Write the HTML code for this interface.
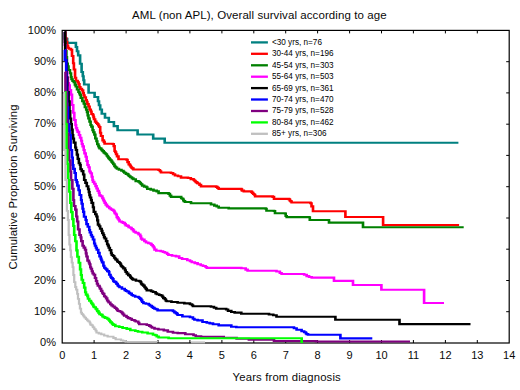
<!DOCTYPE html><html><head><meta charset="utf-8"><title>AML survival</title><style>
html,body{margin:0;padding:0;background:#fff}
#c{position:relative;width:520px;height:390px;overflow:hidden;background:#fff;font-family:"Liberation Sans",sans-serif;color:#0a0a0a}
.t{position:absolute;white-space:nowrap;line-height:1}
.xl{font-size:11px;transform:translateX(-50%)}
.yl{font-size:11px;text-align:right;width:40px}
.lg{font-size:9.7px;transform-origin:0 50%;transform:scaleX(0.843);color:#000}

</style></head><body><div id="c">
<svg width="520" height="390" viewBox="0 0 520 390" style="position:absolute;left:0;top:0">
<rect x="0" y="0" width="520" height="390" fill="#fff"/>
<rect x="62.2" y="30.4" width="447.0" height="312.6" fill="none" stroke="#000" stroke-width="1.2"/>
<path d="M94.1,343.0v-3 M94.1,30.4v3 M126.1,343.0v-3 M126.1,30.4v3 M158.0,343.0v-3 M158.0,30.4v3 M189.9,343.0v-3 M189.9,30.4v3 M221.9,343.0v-3 M221.9,30.4v3 M253.8,343.0v-3 M253.8,30.4v3 M285.7,343.0v-3 M285.7,30.4v3 M317.6,343.0v-3 M317.6,30.4v3 M349.6,343.0v-3 M349.6,30.4v3 M381.5,343.0v-3 M381.5,30.4v3 M413.4,343.0v-3 M413.4,30.4v3 M445.4,343.0v-3 M445.4,30.4v3 M477.3,343.0v-3 M477.3,30.4v3 M62.2,311.7h3 M509.2,311.7h-3 M62.2,280.5h3 M509.2,280.5h-3 M62.2,249.2h3 M509.2,249.2h-3 M62.2,218.0h3 M509.2,218.0h-3 M62.2,186.7h3 M509.2,186.7h-3 M62.2,155.4h3 M509.2,155.4h-3 M62.2,124.2h3 M509.2,124.2h-3 M62.2,92.9h3 M509.2,92.9h-3 M62.2,61.7h3 M509.2,61.7h-3" stroke="#000" stroke-width="1" fill="none"/>
<g transform="scale(1.25,1)" fill="none" stroke-linejoin="miter">
<polyline points="51.60,32.0 51.60,38.7 53.76,38.7 53.76,42.9 60.72,42.9 60.72,47.0 61.60,47.0 61.60,51.2 62.56,51.2 62.56,55.4 64.08,55.4 64.08,63.7 65.28,63.7 65.28,72.0 66.24,72.0 66.24,76.2 66.80,76.2 66.80,80.3 67.36,80.3 67.36,84.5 70.88,84.5 70.88,92.8 75.68,92.8 75.68,97.0 78.40,97.0 78.40,101.2 79.20,101.2 79.20,105.3 80.16,105.3 80.16,109.5 81.44,109.5 81.44,113.7 84.00,113.7 84.00,117.8 87.04,117.8 87.04,122.0 91.12,122.0 91.12,126.1 94.08,126.1 94.08,130.3 110.08,130.3 110.08,134.5 122.56,134.5 122.56,138.6 131.76,138.6 131.76,142.8 366.72,142.8" stroke="#008080" stroke-width="2.1"/>
<polyline points="51.92,32.5 52.32,32.5 52.32,38.0 52.96,38.0 52.96,42.0 53.68,42.0 53.68,45.5 54.40,45.5 54.40,47.7 55.12,47.7 55.12,48.8 56.72,48.8 56.72,49.8 57.60,49.8 57.60,56.0 58.56,56.0 58.56,63.2 59.12,63.2 59.12,69.5 60.04,69.5 60.04,77.7 60.80,77.7 60.80,80.8 62.12,80.8 62.12,82.2 62.89,82.2 62.89,84.0 63.52,84.0 63.52,87.0 64.29,87.0 64.29,88.9 65.52,88.9 65.52,90.4 66.48,90.4 66.48,93.0 66.97,93.0 66.97,95.3 67.60,95.3 67.60,97.3 68.64,97.3 68.64,100.0 69.32,100.0 69.32,101.7 69.89,101.7 69.89,104.1 70.82,104.1 70.82,106.5 71.68,106.5 71.68,109.6 72.61,109.6 72.61,111.5 73.21,111.5 73.21,114.0 74.33,114.0 74.33,115.3 74.80,115.3 74.80,117.3 75.21,117.3 75.21,119.2 76.09,119.2 76.09,121.6 77.04,121.6 77.04,123.0 77.86,123.0 77.86,124.0 78.62,124.0 78.62,125.5 79.36,125.5 79.36,127.0 80.16,127.0 80.16,132.7 80.77,132.7 80.77,136.0 82.08,136.0 82.08,140.4 83.08,140.4 83.08,141.9 83.68,141.9 83.68,143.8 90.24,143.8 90.24,144.0 90.99,144.0 90.99,146.1 91.68,146.1 91.68,151.0 92.22,151.0 92.22,152.2 92.86,152.2 92.86,154.2 93.62,154.2 93.62,156.4 94.80,156.4 94.80,159.3 101.20,159.3 101.20,159.8 102.03,159.8 102.03,162.1 103.00,162.1 103.00,164.4 103.92,164.4 103.92,165.5 104.53,165.5 104.53,166.8 105.18,166.8 105.18,167.8 105.84,167.8 105.84,168.4 106.72,168.4 106.72,169.5 126.88,169.5 126.88,170.0 127.94,170.0 127.94,171.2 128.80,171.2 128.80,172.5 136.80,172.5 136.80,173.0 138.47,173.0 138.47,174.3 140.00,174.3 140.00,175.5 142.39,175.5 142.39,176.2 144.80,176.2 144.80,177.6 150.40,177.6 150.40,178.0 152.67,178.0 152.67,179.1 154.80,179.1 154.80,179.8 155.33,179.8 155.33,180.5 156.03,180.5 156.03,181.2 156.67,181.2 156.67,182.1 157.59,182.1 157.59,182.9 158.15,182.9 158.15,183.5 159.61,183.5 159.61,184.9 160.80,184.9 160.80,186.4 172.96,186.4 172.96,186.9 173.95,186.9 173.95,187.9 174.96,187.9 174.96,188.9 193.04,188.9 193.04,189.4 193.57,189.4 193.57,190.6 195.04,190.6 195.04,191.4 201.12,191.4 201.12,191.9 201.72,191.9 201.72,192.9 202.58,192.9 202.58,194.0 203.38,194.0 203.38,194.8 204.08,194.8 204.08,196.4 218.16,196.4 218.16,196.9 219.20,196.9 219.20,198.9 231.20,198.9 231.20,199.4 231.91,199.4 231.91,200.7 232.59,200.7 232.59,201.4 233.28,201.4 233.28,202.5 248.40,202.5 248.40,203.2 249.21,203.2 249.21,206.4 250.40,206.4 250.40,211.3 276.32,211.3 276.32,217.0 306.48,217.0 306.48,225.0 367.28,225.0" stroke="#ff0000" stroke-width="2.1"/>
<polyline points="51.60,32.0 51.84,32.0 51.84,42.0 52.40,42.0 52.40,51.0 53.12,51.0 53.12,57.0 53.52,57.0 53.52,63.5 54.16,63.5 54.16,66.4 54.80,66.4 54.80,70.0 55.96,70.0 55.96,73.3 56.80,73.3 56.80,77.0 57.21,77.0 57.21,79.3 58.03,79.3 58.03,81.0 59.02,81.0 59.02,82.3 59.92,82.3 59.92,84.6 60.59,84.6 60.59,86.5 61.63,86.5 61.63,89.5 62.80,89.5 62.80,92.0 63.52,92.0 63.52,93.4 64.07,93.4 64.07,94.9 64.65,94.9 64.65,97.9 65.89,97.9 65.89,101.2 67.04,101.2 67.04,103.8 67.91,103.8 67.91,107.2 68.99,107.2 68.99,109.8 69.63,109.8 69.63,112.1 70.16,112.1 70.16,115.4 70.76,115.4 70.76,118.4 71.63,118.4 71.63,121.6 72.48,121.6 72.48,125.0 73.12,125.0 73.12,126.6 74.06,126.6 74.06,130.1 74.72,130.1 74.72,132.2 75.52,132.2 75.52,134.6 76.26,134.6 76.26,138.5 77.21,138.5 77.21,141.3 77.84,141.3 77.84,144.2 78.74,144.2 78.74,146.1 79.20,146.1 79.20,147.5 79.69,147.5 79.69,148.4 80.95,148.4 80.95,149.5 81.60,149.5 81.60,150.4 82.20,150.4 82.20,151.1 82.94,151.1 82.94,152.4 83.71,152.4 83.71,153.3 84.64,153.3 84.64,154.2 85.46,154.2 85.46,155.8 86.11,155.8 86.11,156.8 86.79,156.8 86.79,158.1 87.60,158.1 87.60,159.2 88.33,159.2 88.33,160.2 89.20,160.2 89.20,161.6 89.89,161.6 89.89,162.8 90.64,162.8 90.64,164.2 91.55,164.2 91.55,165.9 92.03,165.9 92.03,166.8 92.69,166.8 92.69,167.6 93.60,167.6 93.60,168.8 95.15,168.8 95.15,169.7 97.16,169.7 97.16,170.7 98.72,170.7 98.72,171.8 99.43,171.8 99.43,172.8 100.76,172.8 100.76,173.9 102.02,173.9 102.02,174.4 102.72,174.4 102.72,175.5 103.48,175.5 103.48,176.2 104.32,176.2 104.32,177.3 105.59,177.3 105.59,178.4 106.72,178.4 106.72,179.3 108.59,179.3 108.59,181.1 110.80,181.1 110.80,181.8 111.73,181.8 111.73,182.8 112.57,182.8 112.57,183.7 113.02,183.7 113.02,184.3 113.76,184.3 113.76,185.6 115.32,185.6 115.32,186.6 117.11,186.6 117.11,187.3 117.84,187.3 117.84,188.9 120.57,188.9 120.57,189.6 122.80,189.6 122.80,190.6 125.39,190.6 125.39,191.4 126.88,191.4 126.88,193.1 134.88,193.1 134.88,193.9 135.91,193.9 135.91,195.6 136.88,195.6 136.88,196.9 144.96,196.9 144.96,198.2 145.75,198.2 145.75,198.8 146.65,198.8 146.65,200.2 147.06,200.2 147.06,201.1 148.00,201.1 148.00,202.0 152.80,202.0 152.80,203.2 168.80,203.2 168.80,204.5 171.46,204.5 171.46,205.6 173.38,205.6 173.38,206.5 174.96,206.5 174.96,207.7 182.96,207.7 182.96,208.4 212.48,208.4 212.48,208.7 213.20,208.7 213.20,210.8 219.20,210.8 219.20,211.0 220.00,211.0 220.00,213.3 228.00,213.3 228.00,213.5 228.56,213.5 228.56,216.0 229.36,216.0 229.36,217.1 247.20,217.1 247.20,217.3 247.84,217.3 247.84,220.0 263.20,220.0 263.20,222.6 290.40,222.6 290.40,227.2 370.96,227.2" stroke="#008000" stroke-width="2.1"/>
<polyline points="51.68,32.0 51.92,32.0 51.92,45.0 52.40,45.0 52.40,60.0 53.04,60.0 53.04,72.0 53.74,72.0 53.74,77.7 54.40,77.7 54.40,83.0 55.04,83.0 55.04,85.2 55.76,85.2 55.76,90.0 56.74,90.0 56.74,94.6 57.60,94.6 57.60,105.0 58.59,105.0 58.59,112.7 59.44,112.7 59.44,120.0 60.40,120.0 60.40,125.0 60.88,125.0 60.88,128.1 61.57,128.1 61.57,130.3 62.13,130.3 62.13,131.9 63.20,131.9 63.20,135.0 64.07,135.0 64.07,137.8 64.98,137.8 64.98,140.8 65.52,140.8 65.52,144.0 66.11,144.0 66.11,146.4 66.96,146.4 66.96,150.0 67.59,150.0 67.59,153.4 68.56,153.4 68.56,156.7 69.31,156.7 69.31,161.0 70.00,161.0 70.00,165.0 70.85,165.0 70.85,167.3 71.63,167.3 71.63,171.5 72.46,171.5 72.46,173.3 73.40,173.3 73.40,176.8 74.00,176.8 74.00,180.0 74.40,180.0 74.40,181.9 75.39,181.9 75.39,183.7 76.42,183.7 76.42,186.1 77.25,186.1 77.25,188.5 78.16,188.5 78.16,190.9 79.13,190.9 79.13,192.9 79.60,192.9 79.60,195.4 80.74,195.4 80.74,196.3 81.90,196.3 81.90,198.2 82.60,198.2 82.60,199.7 83.12,199.7 83.12,201.3 83.73,201.3 83.73,202.9 84.56,202.9 84.56,204.6 85.56,204.6 85.56,206.0 86.07,206.0 86.07,206.7 87.39,206.7 87.39,208.2 88.65,208.2 88.65,209.2 89.67,209.2 89.67,209.9 90.72,209.9 90.72,210.8 91.53,210.8 91.53,212.4 91.99,212.4 91.99,213.5 92.80,213.5 92.80,214.5 93.40,214.5 93.40,217.1 94.13,217.1 94.13,218.4 94.91,218.4 94.91,219.8 95.60,219.8 95.60,221.5 97.30,221.5 97.30,222.1 98.40,222.1 98.40,222.9 99.86,222.9 99.86,224.1 100.56,224.1 100.56,225.4 101.96,225.4 101.96,225.9 102.90,225.9 102.90,227.2 104.11,227.2 104.11,227.8 105.25,227.8 105.25,229.1 106.40,229.1 106.40,230.4 107.14,230.4 107.14,231.8 108.51,231.8 108.51,232.8 110.40,232.8 110.40,233.5 111.00,233.5 111.00,234.5 112.23,234.5 112.23,236.2 112.84,236.2 112.84,238.6 113.76,238.6 113.76,239.6 115.50,239.6 115.50,241.3 116.83,241.3 116.83,242.5 118.65,242.5 118.65,243.2 120.24,243.2 120.24,243.8 121.20,243.8 121.20,245.0 122.15,245.0 122.15,246.3 122.96,246.3 122.96,247.5 123.60,247.5 123.60,249.6 125.02,249.6 125.02,250.7 128.56,250.7 128.56,251.2 130.38,251.2 130.38,252.0 131.93,252.0 131.93,252.7 133.71,252.7 133.71,254.0 134.72,254.0 134.72,255.0 137.62,255.0 137.62,255.7 140.75,255.7 140.75,256.4 143.36,256.4 143.36,258.0 145.65,258.0 145.65,259.0 149.82,259.0 149.82,260.3 152.00,260.3 152.00,261.2 153.43,261.2 153.43,262.2 155.81,262.2 155.81,263.1 158.08,263.1 158.08,264.2 160.57,264.2 160.57,265.2 162.38,265.2 162.38,266.0 164.49,266.0 164.49,267.0 165.44,267.0 165.44,267.9 193.04,267.9 193.04,268.3 196.54,268.3 196.54,269.6 198.08,269.6 198.08,270.8 221.20,270.8 221.20,271.5 223.89,271.5 223.89,273.0 225.28,273.0 225.28,274.0 243.36,274.0 243.36,274.8 245.33,274.8 245.33,276.1 247.27,276.1 247.27,277.0 249.36,277.0 249.36,277.6 267.20,277.6 267.20,280.9 282.40,280.9 282.40,285.0 305.12,285.0 305.12,289.7 339.28,289.7 339.28,303.0 355.20,303.0" stroke="#ff00ff" stroke-width="2.1"/>
<polyline points="51.60,32.0 52.16,32.0 52.16,60.0 53.16,60.0 53.16,77.3 53.84,77.3 53.84,92.0 54.87,92.0 54.87,101.4 55.60,101.4 55.60,111.0 56.12,111.0 56.12,118.5 56.80,118.5 56.80,124.0 57.37,124.0 57.37,129.6 58.00,129.6 58.00,135.0 58.46,135.0 58.46,138.6 59.09,138.6 59.09,142.6 60.29,142.6 60.29,147.5 60.80,147.5 60.80,150.0 61.53,150.0 61.53,154.6 62.24,154.6 62.24,158.9 63.10,158.9 63.10,163.3 64.00,163.3 64.00,165.0 64.44,165.0 64.44,169.2 65.42,169.2 65.42,171.1 66.56,171.1 66.56,174.5 67.36,174.5 67.36,180.0 68.38,180.0 68.38,182.9 69.42,182.9 69.42,186.3 70.55,186.3 70.55,189.3 71.12,189.3 71.12,192.1 71.59,192.1 71.59,195.1 72.09,195.1 72.09,197.5 72.88,197.5 72.88,200.0 73.33,200.0 73.33,202.9 74.41,202.9 74.41,207.3 75.03,207.3 75.03,211.9 76.23,211.9 76.23,214.3 77.19,214.3 77.19,216.5 77.87,216.5 77.87,220.4 78.40,220.4 78.40,224.6 79.35,224.6 79.35,226.3 80.13,226.3 80.13,228.8 81.31,228.8 81.31,230.9 81.86,230.9 81.86,233.3 82.72,233.3 82.72,235.0 83.26,235.0 83.26,237.1 83.81,237.1 83.81,238.5 84.88,238.5 84.88,241.1 85.76,241.1 85.76,244.2 86.44,244.2 86.44,245.6 87.00,245.6 87.00,247.8 87.86,247.8 87.86,250.1 88.90,250.1 88.90,253.2 89.44,253.2 89.44,255.0 90.42,255.0 90.42,256.0 91.36,256.0 91.36,257.7 92.12,257.7 92.12,258.7 92.65,258.7 92.65,259.6 93.76,259.6 93.76,261.2 94.37,261.2 94.37,262.0 95.50,262.0 95.50,263.0 96.27,263.0 96.27,264.2 96.80,264.2 96.80,265.8 97.36,265.8 97.36,266.5 98.13,266.5 98.13,267.2 98.74,267.2 98.74,268.4 100.01,268.4 100.01,270.2 100.56,270.2 100.56,272.0 101.48,272.0 101.48,273.6 102.60,273.6 102.60,275.1 103.67,275.1 103.67,275.7 104.29,275.7 104.29,277.0 104.80,277.0 104.80,278.0 105.62,278.0 105.62,278.9 106.40,278.9 106.40,279.6 108.77,279.6 108.77,280.7 111.36,280.7 111.36,281.2 112.46,281.2 112.46,282.2 112.98,282.2 112.98,283.8 113.63,283.8 113.63,284.6 114.61,284.6 114.61,285.6 115.60,285.6 115.60,287.2 116.30,287.2 116.30,287.8 116.71,287.8 116.71,288.9 117.44,288.9 117.44,290.4 120.92,290.4 120.92,291.2 122.40,291.2 122.40,292.0 124.46,292.0 124.46,293.4 125.55,293.4 125.55,294.2 127.36,294.2 127.36,295.0 128.80,295.0 128.80,295.5 129.91,295.5 129.91,296.7 130.66,296.7 130.66,298.1 131.86,298.1 131.86,299.3 132.67,299.3 132.67,300.7 133.44,300.7 133.44,301.2 137.15,301.2 137.15,302.0 142.08,302.0 142.08,302.7 147.45,302.7 147.45,303.4 152.00,303.4 152.00,304.2 153.62,304.2 153.62,305.2 154.40,305.2 154.40,306.2 168.80,306.2 168.80,306.7 171.18,306.7 171.18,307.7 172.96,307.7 172.96,308.8 180.96,308.8 180.96,309.5 182.42,309.5 182.42,310.9 185.04,310.9 185.04,312.0 187.73,312.0 187.73,312.6 193.04,312.6 193.04,313.8 215.20,313.8 215.20,314.5 218.60,314.5 218.60,315.3 221.20,315.3 221.20,316.7 268.32,316.7 268.32,319.8 319.60,319.8 319.60,324.1 376.40,324.1" stroke="#000000" stroke-width="2.1"/>
<polyline points="51.76,50.0 51.92,50.0 51.92,60.0 52.96,60.0 52.96,92.0 53.66,92.0 53.66,107.4 54.40,107.4 54.40,124.0 55.23,124.0 55.23,130.9 55.68,130.9 55.68,135.0 56.48,135.0 56.48,150.0 57.55,150.0 57.55,157.5 58.16,157.5 58.16,165.0 58.66,165.0 58.66,168.9 59.73,168.9 59.73,173.0 60.56,173.0 60.56,180.0 61.32,180.0 61.32,182.1 61.88,182.1 61.88,185.6 62.87,185.6 62.87,190.2 63.75,190.2 63.75,195.0 64.88,195.0 64.88,200.0 65.36,200.0 65.36,203.8 66.07,203.8 66.07,208.8 66.63,208.8 66.63,211.9 67.24,211.9 67.24,216.7 68.56,216.7 68.56,220.0 69.18,220.0 69.18,224.1 70.23,224.1 70.23,226.8 71.41,226.8 71.41,230.0 71.90,230.0 71.90,232.4 72.80,232.4 72.80,235.0 73.45,235.0 73.45,236.7 74.40,236.7 74.40,239.5 75.39,239.5 75.39,243.5 76.00,243.5 76.00,245.8 76.76,245.8 76.76,247.7 77.41,247.7 77.41,249.8 78.62,249.8 78.62,252.9 79.60,252.9 79.60,256.5 80.59,256.5 80.59,258.6 81.10,258.6 81.10,260.5 81.68,260.5 81.68,262.4 82.72,262.4 82.72,265.8 83.42,265.8 83.42,267.7 84.34,267.7 84.34,268.7 85.08,268.7 85.08,269.6 85.87,269.6 85.87,271.1 87.04,271.1 87.04,272.0 87.41,272.0 87.41,274.8 88.43,274.8 88.43,276.7 89.10,276.7 89.10,278.0 90.06,278.0 90.06,279.1 90.72,279.1 90.72,281.2 91.63,281.2 91.63,281.9 92.75,281.9 92.75,282.8 93.22,282.8 93.22,283.9 94.11,283.9 94.11,285.5 94.80,285.5 94.80,286.2 95.60,286.2 95.60,287.3 97.56,287.3 97.56,288.7 99.77,288.7 99.77,290.1 100.82,290.1 100.82,291.0 101.76,291.0 101.76,291.5 103.13,291.5 103.13,292.9 103.98,292.9 103.98,293.6 105.33,293.6 105.33,295.0 106.40,295.0 106.40,295.8 108.14,295.8 108.14,296.8 110.72,296.8 110.72,297.3 111.34,297.3 111.34,298.0 112.12,298.0 112.12,298.9 113.00,298.9 113.00,300.4 113.76,300.4 113.76,302.0 114.75,302.0 114.75,303.2 116.70,303.2 116.70,303.8 119.01,303.8 119.01,304.8 120.00,304.8 120.00,305.8 121.41,305.8 121.41,306.9 122.42,306.9 122.42,307.9 123.57,307.9 123.57,308.8 124.92,308.8 124.92,309.3 126.08,309.3 126.08,310.4 138.40,310.4 138.40,311.2 139.51,311.2 139.51,312.4 140.64,312.4 140.64,313.1 141.48,313.1 141.48,313.9 142.08,313.9 142.08,315.0 145.91,315.0 145.91,316.5 152.00,316.5 152.00,317.3 154.34,317.3 154.34,318.7 155.54,318.7 155.54,319.8 158.08,319.8 158.08,320.4 162.01,320.4 162.01,322.0 165.44,322.0 165.44,322.7 167.80,322.7 167.80,323.4 170.40,323.4 170.40,324.2 174.96,324.2 174.96,325.4 185.04,325.4 185.04,326.7 189.04,326.7 189.04,327.2 233.28,327.2 235.18,327.2 235.18,328.2 237.28,328.2 237.28,329.7 241.27,329.7 241.27,331.3 243.36,331.3 243.36,332.2 244.71,332.2 244.71,333.5 245.37,333.5 245.37,334.1 246.40,334.1 246.40,334.8 272.32,334.8 272.32,338.4 297.84,338.4" stroke="#0000ff" stroke-width="2.1"/>
<polyline points="51.92,72.0 52.40,72.0 52.40,92.0 53.28,92.0 53.28,120.0 53.71,120.0 53.71,133.7 54.64,133.7 54.64,150.0 55.20,150.0 55.20,160.2 56.28,160.2 56.28,171.5 56.80,171.5 56.80,180.0 57.89,180.0 57.89,188.8 58.72,188.8 58.72,200.0 59.17,200.0 59.17,206.0 60.27,206.0 60.27,209.6 61.10,209.6 61.10,216.5 61.76,216.5 61.76,221.5 62.50,221.5 62.50,229.4 63.60,229.4 63.60,235.0 64.59,235.0 64.59,237.4 65.03,237.4 65.03,241.1 66.08,241.1 66.08,245.8 67.03,245.8 67.03,247.6 68.05,247.6 68.05,249.7 68.76,249.7 68.76,253.4 69.20,253.4 69.20,256.5 70.02,256.5 70.02,260.6 71.14,260.6 71.14,262.5 71.65,262.5 71.65,264.3 72.24,264.3 72.24,267.3 72.76,267.3 72.76,268.8 73.50,268.8 73.50,271.3 74.13,271.3 74.13,273.5 75.06,273.5 75.06,274.8 76.00,274.8 76.00,278.0 76.86,278.0 76.86,281.0 77.60,281.0 77.60,283.7 78.29,283.7 78.29,285.7 79.60,285.7 79.60,287.3 80.01,287.3 80.01,288.7 80.92,288.7 80.92,290.9 81.77,290.9 81.77,292.8 82.45,292.8 82.45,293.9 83.36,293.9 83.36,296.0 83.89,296.0 83.89,296.8 84.88,296.8 84.88,298.4 85.75,298.4 85.75,300.5 86.47,300.5 86.47,301.5 87.01,301.5 87.01,302.5 88.24,302.5 88.24,304.2 89.23,304.2 89.23,305.4 90.34,305.4 90.34,306.5 91.63,306.5 91.63,307.5 92.29,307.5 92.29,308.0 93.08,308.0 93.08,309.1 93.86,309.1 93.86,310.2 94.40,310.2 94.40,311.0 95.85,311.0 95.85,311.5 96.96,311.5 96.96,312.3 97.80,312.3 97.80,313.4 98.51,313.4 98.51,314.5 99.36,314.5 99.36,315.7 101.22,315.7 101.22,317.0 102.39,317.0 102.39,318.1 104.01,318.1 104.01,318.8 105.44,318.8 105.44,320.0 107.57,320.0 107.57,320.8 108.61,320.8 108.61,321.5 110.61,321.5 110.61,322.8 111.36,322.8 111.36,324.2 117.44,324.2 117.44,325.0 119.39,325.0 119.39,325.9 120.56,325.9 120.56,326.8 121.61,326.8 121.61,327.7 123.60,327.7 123.60,328.8 126.72,328.8 126.72,329.5 131.04,329.5 131.04,330.4 134.23,330.4 134.23,331.7 138.40,331.7 138.40,332.7 142.22,332.7 142.22,333.1 148.24,333.1 148.24,334.2 154.80,334.2 154.80,335.3 156.59,335.3 156.59,336.2 160.80,336.2 160.80,336.8 178.96,336.8 178.96,337.8 189.29,337.8 189.29,338.8 199.12,338.8 199.12,339.8 219.20,339.8 219.20,341.0 252.80,341.0 252.80,341.5 328.00,341.5" stroke="#800080" stroke-width="2.1"/>
<polyline points="51.84,92.0 52.24,92.0 52.24,124.0 53.20,124.0 53.20,150.0 53.83,150.0 53.83,163.9 54.48,163.9 54.48,180.0 55.42,180.0 55.42,191.7 56.24,191.7 56.24,203.0 57.02,203.0 57.02,212.1 57.94,212.1 57.94,219.1 58.72,219.1 58.72,226.0 59.36,226.0 59.36,235.0 60.22,235.0 60.22,241.3 61.20,241.3 61.20,250.4 61.92,250.4 61.92,256.7 63.04,256.7 63.04,262.7 64.08,262.7 64.08,269.4 64.80,269.4 64.80,275.0 65.37,275.0 65.37,279.8 66.35,279.8 66.35,283.0 67.36,283.0 67.36,287.6 68.21,287.6 68.21,292.2 68.80,292.2 68.80,294.6 69.92,294.6 69.92,296.3 70.40,296.3 70.40,298.8 71.44,298.8 71.44,300.7 72.66,300.7 72.66,301.8 73.08,301.8 73.08,303.2 73.90,303.2 73.90,304.5 74.72,304.5 74.72,306.5 75.35,306.5 75.35,307.3 76.54,307.3 76.54,308.7 77.19,308.7 77.19,309.4 77.78,309.4 77.78,311.1 78.77,311.1 78.77,312.6 79.60,312.6 79.60,314.2 80.94,314.2 80.94,314.9 81.96,314.9 81.96,316.5 83.04,316.5 83.04,317.1 84.10,317.1 84.10,317.9 85.76,317.9 85.76,318.8 86.85,318.8 86.85,319.8 87.63,319.8 87.63,321.0 88.32,321.0 88.32,322.2 89.40,322.2 89.40,323.3 89.97,323.3 89.97,324.1 90.72,324.1 90.72,324.9 92.25,324.9 92.25,326.3 95.37,326.3 95.37,327.0 98.08,327.0 98.08,328.0 101.41,328.0 101.41,328.9 104.24,328.9 104.24,330.3 108.26,330.3 108.26,331.0 110.40,331.0 110.40,331.8 113.76,331.8 113.76,332.5 118.08,332.5 118.08,333.5 122.40,333.5 122.40,334.7 124.22,334.7 124.22,335.3 125.40,335.3 125.40,336.5 126.88,336.5 126.88,337.5 134.88,337.5 134.88,338.3 241.36,338.3 241.36,343.0" stroke="#00ff00" stroke-width="2.1"/>
<polyline points="51.36,92.0 51.36,150.0 52.40,150.0 52.40,180.0 53.52,180.0 53.52,210.8 54.34,210.8 54.34,220.0 54.96,220.0 54.96,235.0 55.55,235.0 55.55,244.6 56.24,244.6 56.24,250.4 56.73,250.4 56.73,257.1 57.44,257.1 57.44,262.7 58.13,262.7 58.13,267.2 58.72,267.2 58.72,275.0 59.36,275.0 59.36,282.2 60.24,282.2 60.24,287.0 60.96,287.0 60.96,289.6 61.79,289.6 61.79,293.9 62.40,293.9 62.40,298.8 63.20,298.8 63.20,303.8 63.95,303.8 63.95,308.6 64.80,308.6 64.80,312.6 65.48,312.6 65.48,314.1 66.42,314.1 66.42,315.1 66.92,315.1 66.92,316.3 67.68,316.3 67.68,317.6 68.75,317.6 68.75,319.1 69.76,319.1 69.76,320.3 70.65,320.3 70.65,321.4 71.73,321.4 71.73,322.7 72.24,322.7 72.24,324.5 73.11,324.5 73.11,325.2 74.08,325.2 74.08,326.5 74.55,326.5 74.55,327.4 75.46,327.4 75.46,329.1 76.48,329.1 76.48,330.7 77.20,330.7 77.20,332.6 78.99,332.6 78.99,333.5 81.01,333.5 81.01,334.4 83.36,334.4 83.36,335.7 86.12,335.7 86.12,336.7 90.72,336.7 90.72,338.0 92.52,338.0 92.52,339.4 96.80,339.4 96.80,340.3 98.54,340.3 98.54,340.8 100.56,340.8 100.56,341.8 125.60,341.8 125.60,342.2" stroke="#c0c0c0" stroke-width="1.8"/>
</g>
<line x1="191" y1="342.4" x2="205" y2="342.4" stroke="#c0c0c0" stroke-width="2"/>
<line x1="251" y1="42.4" x2="267.9" y2="42.4" stroke="#008080" stroke-width="2.3"/>
<line x1="251" y1="53.8" x2="267.9" y2="53.8" stroke="#ff0000" stroke-width="2.3"/>
<line x1="251" y1="65.3" x2="267.9" y2="65.3" stroke="#008000" stroke-width="2.3"/>
<line x1="251" y1="76.7" x2="267.9" y2="76.7" stroke="#ff00ff" stroke-width="2.3"/>
<line x1="251" y1="88.1" x2="267.9" y2="88.1" stroke="#000000" stroke-width="2.3"/>
<line x1="251" y1="99.5" x2="267.9" y2="99.5" stroke="#0000ff" stroke-width="2.3"/>
<line x1="251" y1="111.0" x2="267.9" y2="111.0" stroke="#800080" stroke-width="2.3"/>
<line x1="251" y1="122.4" x2="267.9" y2="122.4" stroke="#00ff00" stroke-width="2.3"/>
<line x1="251" y1="133.8" x2="267.9" y2="133.8" stroke="#c0c0c0" stroke-width="2.3"/>
</svg>
<div class="t" id="title" style="left:132px;top:10px;font-size:11.5px;letter-spacing:0.08px">AML (non APL), Overall survival according to age</div>
<div class="t xl" style="left:62.2px;top:350.4px">0</div>
<div class="t xl" style="left:94.1px;top:350.4px">1</div>
<div class="t xl" style="left:126.1px;top:350.4px">2</div>
<div class="t xl" style="left:158.0px;top:350.4px">3</div>
<div class="t xl" style="left:189.9px;top:350.4px">4</div>
<div class="t xl" style="left:221.9px;top:350.4px">5</div>
<div class="t xl" style="left:253.8px;top:350.4px">6</div>
<div class="t xl" style="left:285.7px;top:350.4px">7</div>
<div class="t xl" style="left:317.6px;top:350.4px">8</div>
<div class="t xl" style="left:349.6px;top:350.4px">9</div>
<div class="t xl" style="left:381.5px;top:350.4px">10</div>
<div class="t xl" style="left:413.4px;top:350.4px">11</div>
<div class="t xl" style="left:445.4px;top:350.4px">12</div>
<div class="t xl" style="left:477.3px;top:350.4px">13</div>
<div class="t xl" style="left:509.2px;top:350.4px">14</div>
<div class="t yl" style="left:16px;top:337.1px">0%</div>
<div class="t yl" style="left:16px;top:305.8px">10%</div>
<div class="t yl" style="left:16px;top:274.6px">20%</div>
<div class="t yl" style="left:16px;top:243.3px">30%</div>
<div class="t yl" style="left:16px;top:212.1px">40%</div>
<div class="t yl" style="left:16px;top:180.8px">50%</div>
<div class="t yl" style="left:16px;top:149.5px">60%</div>
<div class="t yl" style="left:16px;top:118.3px">70%</div>
<div class="t yl" style="left:16px;top:87.0px">80%</div>
<div class="t yl" style="left:16px;top:55.8px">90%</div>
<div class="t yl" style="left:16px;top:24.5px">100%</div>
<div class="t lg" style="left:271.5px;top:36.8px">&lt;30 yrs, n=76</div>
<div class="t lg" style="left:271.5px;top:48.2px">30-44 yrs, n=196</div>
<div class="t lg" style="left:271.5px;top:59.7px">45-54 yrs, n=303</div>
<div class="t lg" style="left:271.5px;top:71.1px">55-64 yrs, n=503</div>
<div class="t lg" style="left:271.5px;top:82.5px">65-69 yrs, n=361</div>
<div class="t lg" style="left:271.5px;top:94.0px">70-74 yrs, n=470</div>
<div class="t lg" style="left:271.5px;top:105.4px">75-79 yrs, n=528</div>
<div class="t lg" style="left:271.5px;top:116.8px">80-84 yrs, n=462</div>
<div class="t lg" style="left:271.5px;top:128.2px">85+ yrs, n=306</div>
<div class="t" id="xt" style="left:232.6px;top:372.4px;font-size:11.3px;letter-spacing:0.16px">Years from diagnosis</div>
<div class="t" id="yt" style="left:14px;top:187px;font-size:11.3px;letter-spacing:0.12px;transform:translate(-50%,-50%) rotate(-90deg)">Cumulative Proportion Surviving</div>
</div></body></html>
